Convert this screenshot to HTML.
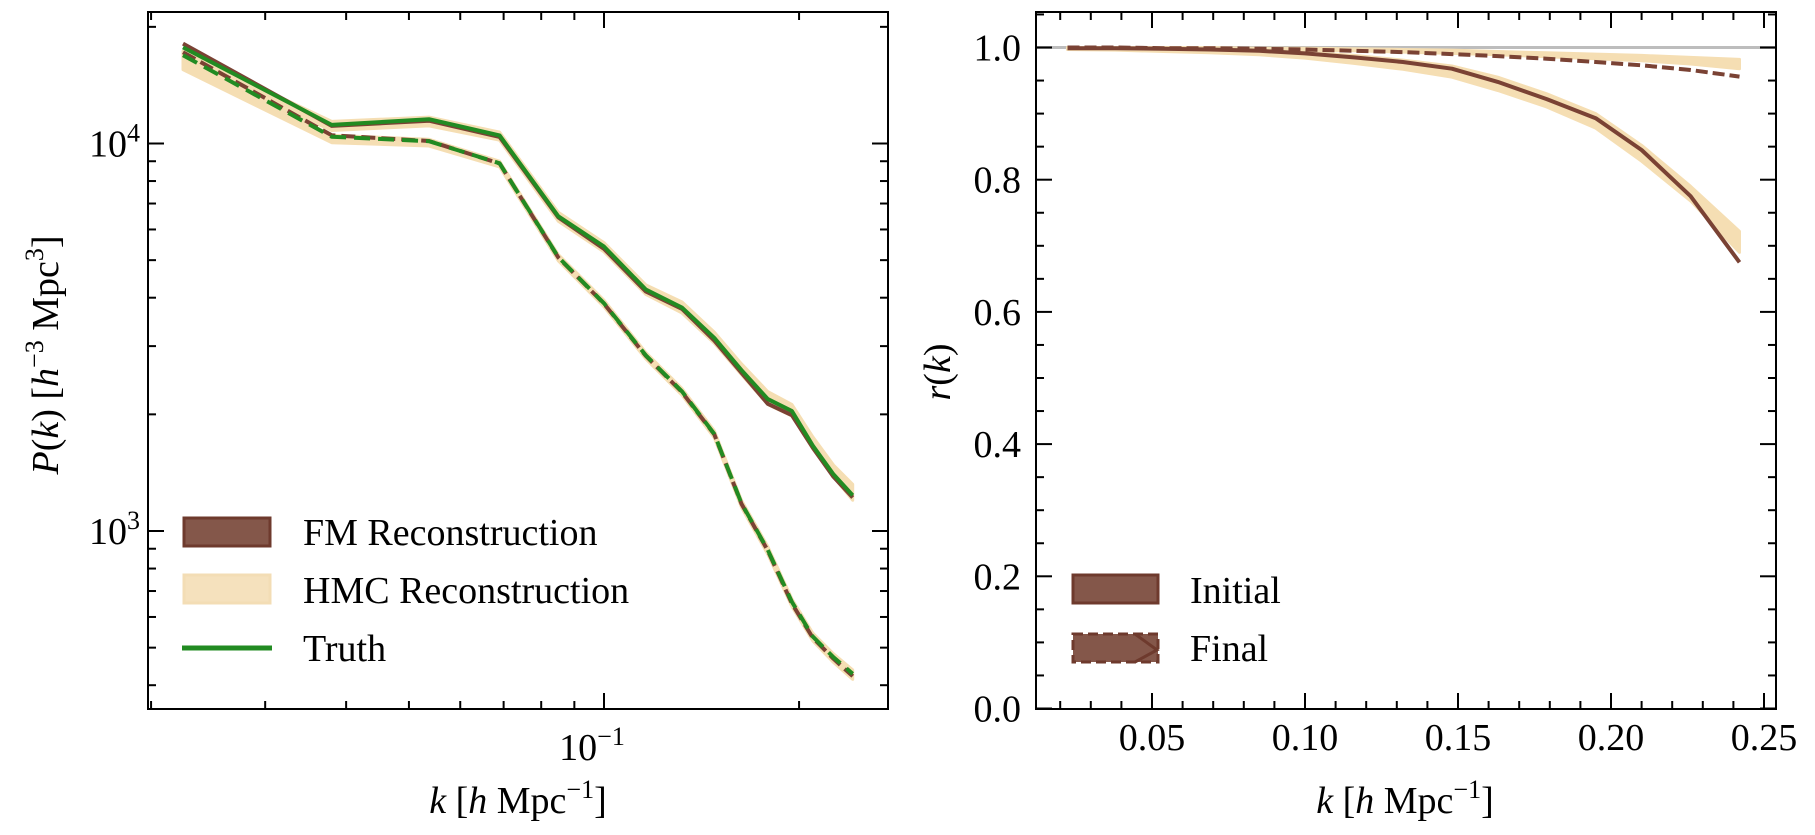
<!DOCTYPE html>
<html><head><meta charset="utf-8"><style>
html,body{margin:0;padding:0;background:#fff;}
svg{display:block;font-family:"Liberation Serif","DejaVu Serif",serif;}
</style></head><body>
<svg id="fig" width="1815" height="835" viewBox="0 0 1815 835" xmlns="http://www.w3.org/2000/svg">
<g id="left"></g>
<g id="right"></g>
</svg>
<script>
const kVals = [0.0224,0.038,0.0537,0.069,0.085,0.1,0.116,0.132,0.148,0.163,0.179,0.195,0.21,0.226,0.242];
const truthInit = [17700,11170,11550,10490,6490,5420,4200,3770,3150,2600,2190,2040,1660,1400,1236];
const truthFinal = [16900,10410,10140,8890,5090,3870,2840,2290,1780,1178,894,656,534,472,428];
const fmInit = [18100,11100,11450,10400,6450,5350,4150,3740,3100,2560,2130,1990,1640,1380,1220];
const fmFinal = [17200,10500,10150,8880,5080,3860,2830,2280,1775,1175,890,650,530,468,422];
const hmcInitLo = [16200,10800,11100,10200,6300,5250,4080,3650,3050,2530,2120,1980,1630,1380,1200];
const hmcInitHi = [17300,11400,11700,10700,6650,5550,4320,3900,3260,2700,2290,2120,1750,1480,1320];
const hmcFinalLo = [15500,10050,9850,8700,4980,3790,2780,2240,1740,1150,870,638,520,458,414];
const hmcFinalHi = [16500,10500,10250,9000,5170,3940,2890,2330,1815,1200,912,668,545,482,438];
const rInit = [0.999,0.999,0.998,0.997,0.995,0.991,0.985,0.978,0.968,0.948,0.922,0.893,0.845,0.775,0.675];
const rFinal = [1.0,1.0,0.999,0.999,0.998,0.997,0.995,0.993,0.990,0.987,0.983,0.978,0.973,0.966,0.956];
const rHmcInitLo = [0.997,0.996,0.994,0.992,0.989,0.984,0.976,0.967,0.955,0.935,0.910,0.878,0.828,0.768,0.69];
const rHmcInitHi = [1.0,1.0,0.999,0.998,0.996,0.993,0.988,0.981,0.972,0.955,0.930,0.900,0.852,0.790,0.722];
const rHmcFinalLo = [1.0,0.999,0.999,0.998,0.997,0.996,0.995,0.993,0.991,0.989,0.986,0.983,0.980,0.975,0.968];
const rHmcFinalHi = [1.0,1.0,1.0,1.0,0.999,0.999,0.998,0.997,0.996,0.994,0.992,0.990,0.988,0.985,0.982];
const leftYTicks = [1000,10000];
const leftYTickExp = ["3","4"];
const rightXTicks = [0.05,0.10,0.15,0.20,0.25];
const rightXLabels = ["0.05","0.10","0.15","0.20","0.25"];
const rightYTicks = [0,0.2,0.4,0.6,0.8,1.0];
const rightYLabels = ["0.0","0.2","0.4","0.6","0.8","1.0"];

const NS="http://www.w3.org/2000/svg";
const FS=38, SS=26;
function mk(parent,tag,attrs,text){const e=document.createElementNS(NS,tag);for(const a in attrs)e.setAttribute(a,attrs[a]);if(text!==undefined)e.textContent=text;parent.appendChild(e);return e;}

const L={x0:148,x1:888,y0:12,y1:709};
const lx=k=>604+648*(Math.log10(k)+1);
const ly=p=>143.5-387.5*(Math.log10(p)-4);
const R={x0:1036,x1:1776,y0:12,y1:709};
const rx=k=>1152+3060*(k-0.05);
const ry=r=>708.5-661*r;

const gl=document.getElementById('left'), gr=document.getElementById('right');
function pts(xs,ys,fx,fy){return xs.map((k,i)=>fx(k).toFixed(1)+','+fy(ys[i]).toFixed(1)).join(' ');}
function band(g,lo,hi,fx,fy,fill,name){
  const p=pts(kVals,hi,fx,fy)+' '+pts(kVals.slice().reverse(),lo.slice().reverse(),fx,fy);
  const e=mk(g,'polygon',{points:p,fill:fill,stroke:fill,'stroke-width':3,'stroke-linejoin':'round'});
  
  
}
function line(g,ys,fx,fy,color,w,dash,name){
  const e=mk(g,'polyline',{points:pts(kVals,ys,fx,fy),fill:'none',stroke:color,'stroke-width':w,'stroke-linejoin':'round'});
  if(dash)e.setAttribute('stroke-dasharray',dash);
  
  
}
const clipL=mk(mk(document.getElementById('fig'),'defs',{}),'clipPath',{id:'cl'});
mk(clipL,'rect',{x:L.x0,y:L.y0,width:L.x1-L.x0,height:L.y1-L.y0});
const dl=mk(gl,'g',{'clip-path':'url(#cl)'});
band(dl,hmcInitLo,hmcInitHi,lx,ly,'#f5deb3','hmc-initial-band');
band(dl,hmcFinalLo,hmcFinalHi,lx,ly,'#f5deb3','hmc-final-band');
line(dl,fmInit,lx,ly,'#7a4234',4,null,'fm-initial-line');
line(dl,fmFinal,lx,ly,'#7a4234',4,'14 6','fm-final-line');
line(dl,truthInit,lx,ly,'#228b22',4,null,'truth-initial-line');
line(dl,truthFinal,lx,ly,'#228b22',4,'16 8','truth-final-line');

function frame(g,A,name){const e=mk(g,'rect',{x:A.x0,y:A.y0,width:A.x1-A.x0,height:A.y1-A.y0,fill:'none',stroke:'#000','stroke-width':2});
  
  }
function xtick(g,A,x,len){mk(g,'line',{x1:x,x2:x,y1:A.y1,y2:A.y1-len,stroke:'#000','stroke-width':2});mk(g,'line',{x1:x,x2:x,y1:A.y0,y2:A.y0+len,stroke:'#000','stroke-width':2});}
function ytick(g,A,y,len){mk(g,'line',{x1:A.x0,x2:A.x0+len,y1:y,y2:y,stroke:'#000','stroke-width':2});mk(g,'line',{x1:A.x1,x2:A.x1-len,y1:y,y2:y,stroke:'#000','stroke-width':2});}
frame(gl,L,'left-plot-frame');
[0.02,0.03,0.04,0.05,0.06,0.07,0.08,0.09,0.2].forEach(k=>{const x=lx(k);if(x>=L.x0&&x<=L.x1)xtick(gl,L,x,8);});
xtick(gl,L,lx(0.1),16);
[400,500,600,700,800,900,2000,3000,4000,5000,6000,7000,8000,9000,20000].forEach(p=>{const y=ly(p);if(y>=L.y0&&y<=L.y1)ytick(gl,L,y,8);});
leftYTicks.forEach((p,i)=>{ytick(gl,L,ly(p),16);
  const t=mk(gl,'text',{x:140,y:ly(p)+13,'font-size':FS,'text-anchor':'end'});
  
  
  mk(t,'tspan',{},'10');mk(t,'tspan',{dy:-15,'font-size':SS},leftYTickExp[i]);});
const xt=mk(gl,'text',{x:592,y:760,'font-size':FS,'text-anchor':'middle'});


mk(xt,'tspan',{},'10');mk(xt,'tspan',{dy:-15,'font-size':SS},'−1');

function xlabel(g,cx,name){const t=mk(g,'text',{x:cx,y:813,'font-size':FS,'text-anchor':'middle'});
  
  
  mk(t,'tspan',{'font-style':'italic'},'k');mk(t,'tspan',{},' [');mk(t,'tspan',{'font-style':'italic'},'h');mk(t,'tspan',{},' Mpc');mk(t,'tspan',{dy:-15,'font-size':SS},'−1');mk(t,'tspan',{dy:15},']');}
xlabel(gl,518,'left-x-axis-title');
const yl=mk(gl,'text',{x:0,y:0,'font-size':FS,'text-anchor':'middle',transform:'translate(58,355) rotate(-90)'});


mk(yl,'tspan',{'font-style':'italic'},'P');mk(yl,'tspan',{},'(');mk(yl,'tspan',{'font-style':'italic'},'k');mk(yl,'tspan',{},') [');mk(yl,'tspan',{'font-style':'italic'},'h');mk(yl,'tspan',{dy:-15,'font-size':SS},'−3');mk(yl,'tspan',{dy:15},' Mpc');mk(yl,'tspan',{dy:-15,'font-size':SS},'3');mk(yl,'tspan',{dy:15},']');

const lg=mk(gl,'g',{});


const e1=mk(lg,'rect',{x:184,y:518,width:86,height:28,fill:'#84574a',stroke:'#6e3a2d','stroke-width':3});


const e2=mk(lg,'rect',{x:184,y:575,width:86,height:28,fill:'#f5e1bd',stroke:'#f3ddb5','stroke-width':3});


const e3=mk(lg,'line',{x1:182,x2:272,y1:648,y2:648,stroke:'#228b22','stroke-width':5});


[['FM Reconstruction',545],['HMC Reconstruction',603],['Truth',661]].forEach(([s,y])=>{const t=mk(lg,'text',{x:303,y:y,'font-size':FS},s);
  
  });

const clipR=mk(document.querySelector('defs'),'clipPath',{id:'cr'});
mk(clipR,'rect',{x:R.x0,y:R.y0,width:R.x1-R.x0,height:R.y1-R.y0});
const dr=mk(gr,'g',{'clip-path':'url(#cr)'});
const ref=mk(dr,'line',{x1:R.x0,x2:R.x1,y1:ry(1),y2:ry(1),stroke:'#bdbdbd','stroke-width':3});


band(dr,rHmcInitLo,rHmcInitHi,rx,ry,'#f5deb3','hmc-initial-r-band');
band(dr,rHmcFinalLo,rHmcFinalHi,rx,ry,'#f5deb3','hmc-final-r-band');
line(dr,rInit,rx,ry,'#7a4234',4,null,'fm-initial-r-line');
line(dr,rFinal,rx,ry,'#7a4234',4,'12 5','fm-final-r-line');
frame(gr,R,'right-plot-frame');
for(let i=1;i<=25;i++){const k=i/100;const x=rx(k);if(x>R.x0&&x<R.x1)xtick(gr,R,x,i%5===0?16:8);}
for(let i=1;i<=21;i++){const r=i*0.05;const y=ry(r);if(y>R.y0&&y<R.y1&&i%4!==0)ytick(gr,R,y,8);}
rightYTicks.forEach((r,i)=>{ytick(gr,R,ry(r),16);const t=mk(gr,'text',{x:1021,y:ry(r)+13,'font-size':FS,'text-anchor':'end'},rightYLabels[i]);
  
  });
rightXTicks.forEach((k,i)=>{const t=mk(gr,'text',{x:rx(k),y:750,'font-size':FS,'text-anchor':'middle'},rightXLabels[i]);
  
  });
xlabel(gr,1405,'right-x-axis-title');
const ryl=mk(gr,'text',{x:0,y:0,'font-size':FS,'text-anchor':'middle',transform:'translate(950,372) rotate(-90)'});


mk(ryl,'tspan',{'font-style':'italic'},'r');mk(ryl,'tspan',{},'(');mk(ryl,'tspan',{'font-style':'italic'},'k');mk(ryl,'tspan',{},')');
const rg=mk(gr,'g',{});


const r1=mk(rg,'rect',{x:1073,y:575,width:85,height:28,fill:'#84574a',stroke:'#6e3a2d','stroke-width':3});


const r2=mk(rg,'rect',{x:1073,y:634,width:85,height:28,fill:'#84574a',stroke:'#6e3a2d','stroke-width':3,'stroke-dasharray':'10 5'});


mk(rg,'path',{d:'M1135 634 L1157 650 L1135 662',fill:'none',stroke:'#6e3a2d','stroke-width':3});
[['Initial',603],['Final',661]].forEach(([s,y])=>{const t=mk(rg,'text',{x:1190,y:y,'font-size':FS},s);
  
  });
</script>
</body></html>
